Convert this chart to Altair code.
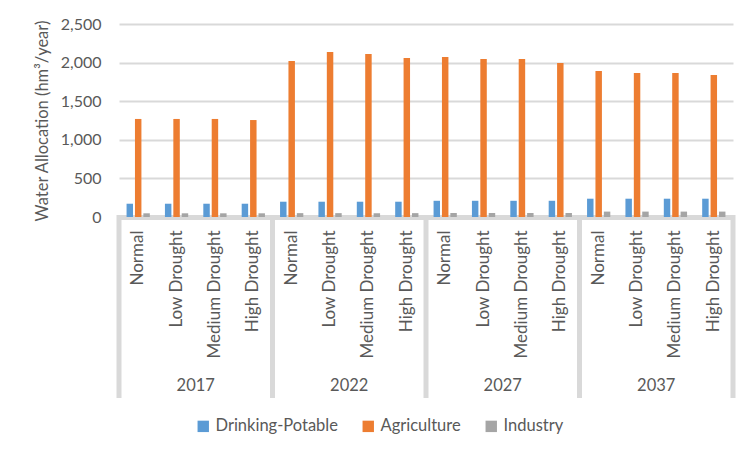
import altair as alt
import pandas as pd

years = ["2017", "2022", "2027", "2037"]
scenarios = ["Normal", "Low Drought", "Medium Drought", "High Drought"]
series = ["Drinking-Potable", "Agriculture", "Industry"]
colors = ["#5B9BD5", "#ED7D31", "#A5A5A5"]

# values per (year, scenario), in order 2017 N/L/M/H, 2022 ..., 2037 ...
drinking = [172, 172, 172, 172, 198, 198, 198, 198, 210, 210, 210, 210, 237, 237, 237, 237]
agriculture = [1270, 1270, 1270, 1256, 2021, 2137, 2111, 2060,
               2072, 2047, 2047, 1995, 1891, 1866, 1866, 1840]
industry = [48, 48, 48, 48, 50, 50, 50, 50, 52, 52, 52, 52, 70, 70, 70, 70]

y_ticks = [0, 500, 1000, 1500, 2000, 2500]

keys = [f"{y}|{s}" for y in years for s in scenarios]
rows = []
for i, k in enumerate(keys):
    for name, vals in zip(series, [drinking, agriculture, industry]):
        rows.append({"key": k, "series": name, "value": vals[i]})
df = pd.DataFrame(rows)

sep_df = pd.DataFrame({"key": [f"{y}|Normal" for y in years]})
end_df = pd.DataFrame({"key": [f"{years[-1]}|{scenarios[-1]}"]})
year_df = pd.DataFrame({"key": [f"{y}|Low Drought" for y in years], "year": years})

W, H = 614, 193
GRAY = "#D9D9D9"
TXT = "#595959"

x_scale = alt.Scale(domain=keys, paddingInner=0, paddingOuter=0)
x_axis = alt.Axis(
    title=None, labelExpr="split(datum.value, '|')[1]", labelAngle=-90,
    labelPadding=13, ticks=False, tickSize=0, labelOverlap=False,
    domain=True, domainColor=GRAY, domainWidth=5, labelFontSize=17, labelColor=TXT,
)


def xenc(bp=0.5):
    return alt.X("key:N", scale=x_scale, axis=x_axis, bandPosition=bp, sort=keys)


bars = alt.Chart(df).mark_bar().encode(
    x=alt.X("key:N", scale=x_scale, axis=x_axis, sort=keys),
    xOffset=alt.XOffset("series:N", sort=series,
                        scale=alt.Scale(domain=series, paddingInner=0.23, paddingOuter=0.9)),
    y=alt.Y("value:Q", scale=alt.Scale(domain=[0, 2500], nice=False),
            axis=alt.Axis(values=y_ticks, format=",.0f", title="Water Allocation (hm³/year)",
                          ticks=False, tickSize=0, domain=False, grid=True, gridColor=GRAY,
                          gridWidth=2, labelPadding=18, titlePadding=10,
                          labelFontSize=16, labelColor=TXT, titleFontSize=16.5,
                          titleColor=TXT, titleFontWeight="normal")),
    color=alt.Color("series:N", sort=series,
                    scale=alt.Scale(domain=series, range=colors),
                    legend=alt.Legend(title=None, orient="none", direction="horizontal",
                                      legendX=76, legendY=394, symbolType="square",
                                      symbolSize=130, symbolStrokeWidth=0, labelFontSize=16.5,
                                      labelColor=TXT, labelOffset=4, columnPadding=22,
                                      padding=0)),
)

seps = alt.Chart(sep_df).mark_rule(color=GRAY, strokeWidth=5).encode(
    x=xenc(0), y=alt.value(H - 2), y2=alt.value(H + 181)
)
end_sep = alt.Chart(end_df).mark_rule(color=GRAY, strokeWidth=5).encode(
    x=xenc(1), y=alt.value(H - 2), y2=alt.value(H + 181)
)
year_text = alt.Chart(year_df).mark_text(fontSize=16.5, color=TXT, baseline="middle").encode(
    x=xenc(1), y=alt.value(H + 169), text="year:N"
)

chart = alt.layer(bars, seps, end_sep, year_text).properties(
    width=W, height=H,
    autosize=alt.AutoSizeParams(type="none"),
    padding={"left": 111, "top": 16, "right": 15, "bottom": 233},
).configure(font="Lato").configure_view(stroke=None)

chart.save("out.html", embed_options={"renderer": "svg", "actions": False})
